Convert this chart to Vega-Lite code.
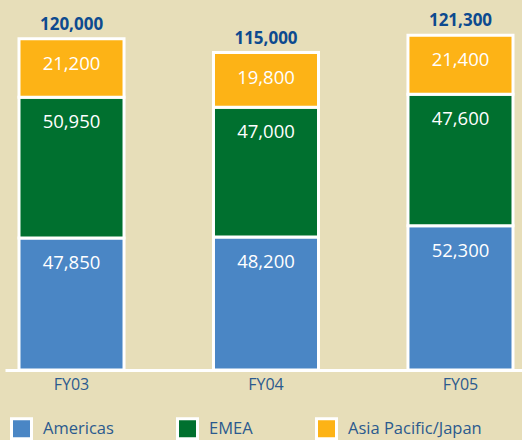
{
  "$schema": "https://vega.github.io/schema/vega-lite/v6.json",
  "autosize": "none",
  "width": 522,
  "height": 345,
  "padding": {"left": 5, "top": 25, "right": 0, "bottom": 70},
  "background": "#e7deb9",
  "config": {
    "view": {"stroke": null},
    "font": "Open Sans"
  },
  "data": {
    "values": [
      {"year": "FY03", "region": "Americas", "rank": 1, "value": 47850},
      {"year": "FY03", "region": "EMEA", "rank": 2, "value": 50950},
      {"year": "FY03", "region": "Asia Pacific/Japan", "rank": 3, "value": 21200},
      {"year": "FY04", "region": "Americas", "rank": 1, "value": 48200},
      {"year": "FY04", "region": "EMEA", "rank": 2, "value": 47000},
      {"year": "FY04", "region": "Asia Pacific/Japan", "rank": 3, "value": 19800},
      {"year": "FY05", "region": "Americas", "rank": 1, "value": 52300},
      {"year": "FY05", "region": "EMEA", "rank": 2, "value": 47600},
      {"year": "FY05", "region": "Asia Pacific/Japan", "rank": 3, "value": 21400}
    ]
  },
  "encoding": {
    "x": {
      "field": "year",
      "type": "nominal",
      "scale": {"paddingInner": 0.46, "paddingOuter": 0.072},
      "axis": {
        "title": null,
        "labelAngle": 0,
        "labelFont": "Open Sans",
        "labelFontSize": 16,
        "labelColor": "#2b5a8e",
        "labelPadding": 6,
        "ticks": false,
        "domainColor": "white",
        "domainWidth": 3
      }
    }
  },
  "layer": [
    {
      "mark": {"type": "bar", "stroke": "white", "strokeWidth": 3},
      "encoding": {
        "y": {
          "field": "value",
          "type": "quantitative",
          "stack": "zero",
          "scale": {"domain": [0, 125000], "nice": false},
          "axis": null
        },
        "color": {
          "field": "region",
          "type": "nominal",
          "sort": ["Americas", "EMEA", "Asia Pacific/Japan"],
          "scale": {
            "domain": ["Americas", "EMEA", "Asia Pacific/Japan"],
            "range": ["#4a86c5", "#00702f", "#fdb316"]
          },
          "legend": {
            "title": null,
            "orient": "none",
            "legendX": 5,
            "legendY": 392,
            "direction": "horizontal",
            "symbolType": "square",
            "symbolSize": 400,
            "symbolStrokeColor": "white",
            "symbolStrokeWidth": 3,
            "symbolOpacity": 1,
            "labelFont": "Open Sans",
            "labelFontSize": 16.5,
            "labelColor": "#2b5a8e",
            "labelOffset": 10,
            "columnPadding": 57,
            "labelLimit": 300
          }
        },
        "order": {"field": "rank", "type": "quantitative", "sort": "ascending"}
      }
    },
    {
      "mark": {"type": "text", "color": "white", "fontSize": 18.5, "baseline": "middle", "dy": 25, "font": "Open Sans"},
      "encoding": {
        "y": {"field": "value", "type": "quantitative", "stack": "zero"},
        "detail": {"field": "region"},
        "order": {"field": "rank", "type": "quantitative", "sort": "ascending"},
        "text": {"field": "value", "type": "quantitative", "format": ","}
      }
    },
    {
      "transform": [
        {"aggregate": [{"op": "sum", "field": "value", "as": "total"}], "groupby": ["year"]}
      ],
      "mark": {"type": "text", "color": "#0d4a8f", "fontSize": 17, "fontWeight": "bold", "baseline": "alphabetic", "dy": -9, "font": "Open Sans"},
      "encoding": {
        "y": {"field": "total", "type": "quantitative"},
        "text": {"field": "total", "type": "quantitative", "format": ","}
      }
    }
  ]
}
